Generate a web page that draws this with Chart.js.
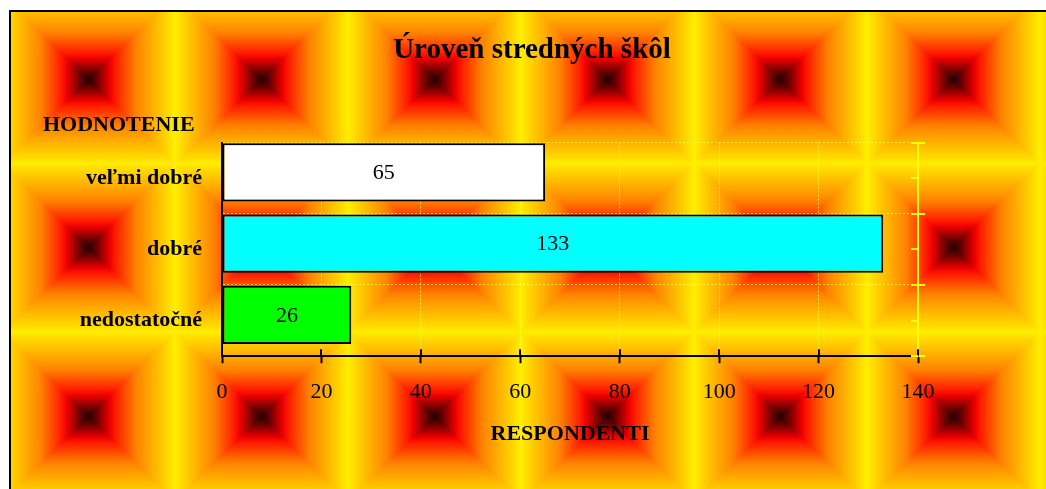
<!DOCTYPE html>
<html>
<head>
<meta charset="utf-8">
<title>Úroveň stredných škôl</title>
<script src="https://cdn.jsdelivr.net/npm/chart.js@4/dist/chart.umd.min.js"></script>
<style>
    html, body { margin: 0; padding: 0; background: #fff; }
    #frame {
        position: absolute; left: 9px; top: 10px;
        width: 1037px; height: 479px;
        border-left: 2px solid #000; border-top: 2px solid #000;
        box-sizing: border-box;
    }
    #wrap { position: absolute; left: 0; top: 0; width: 1035px; height: 477px; }
</style>
</head>
<body>
<div id="frame"><div id="wrap"><canvas id="levelChart"></canvas></div></div>
<script>
// Chart data
const chartTitle = 'Úroveň stredných škôl';
const categoryTitle = 'HODNOTENIE';
const valueTitle = 'RESPONDENTI';
const categories = ['veľmi dobré', 'dobré', 'nedostatočné'];
const respondents = [65, 133, 26];
const spacer = [null, null, null]; // empty second series, pushes the bars up like in the original
const respondentTicks = [0, 20, 40, 60, 80, 100, 120, 140];

const barColors = ['#ffffff', '#00ffff', '#00ff00'];
const gridColor = 'rgba(255, 255, 60, 0.75)';
const axisYellow = '#ffff00';

Chart.defaults.font.family = '"Liberation Serif", "Times New Roman", serif';
Chart.defaults.color = '#000';

// "from center" gradient, dark core -> red -> orange -> yellow edge
const gradStops = [
    [0.00, [35, 0, 0]],
    [0.10, [110, 0, 0]],
    [0.25, [240, 0, 0]],
    [0.32, [255, 30, 0]],
    [0.55, [255, 130, 0]],
    [0.80, [255, 190, 0]],
    [0.95, [255, 225, 0]],
    [1.00, [255, 240, 0]]
];

function gradColor(t) {
    for (let i = 1; i < gradStops.length; i++) {
        if (t <= gradStops[i][0]) {
            const a = gradStops[i - 1], b = gradStops[i];
            const f = (t - a[0]) / (b[0] - a[0]);
            return a[1].map((v, k) => Math.round(v + (b[1][k] - v) * f));
        }
    }
    return gradStops[gradStops.length - 1][1];
}

function makeTile(w, h) {
    const c = document.createElement('canvas');
    c.width = w;
    c.height = h;
    const g = c.getContext('2d');
    const img = g.createImageData(w, h);
    const cx = w / 2, cy = h / 2;
    for (let y = 0; y < h; y++) {
        for (let x = 0; x < w; x++) {
            const t = Math.min(1, Math.max(Math.abs(x + 0.5 - cx) / cx, Math.abs(y + 0.5 - cy) / cy));
            const col = gradColor(t);
            const i = (y * w + x) * 4;
            img.data[i] = col[0];
            img.data[i + 1] = col[1];
            img.data[i + 2] = col[2];
            img.data[i + 3] = 255;
        }
    }
    g.putImageData(img, 0, 0);
    return c;
}

const tileW = 173, tileH = 169;
const tile = makeTile(tileW, tileH);

const tiledBackground = {
    id: 'tiledBackground',
    beforeDraw(chart) {
        const ctx = chart.ctx;
        ctx.save();
        for (let y = -17.25; y < chart.height; y += 168.5) {
            for (let x = -9.5; x < chart.width; x += tileW) {
                ctx.drawImage(tile, Math.round(x), Math.round(y), tileW, tileH);
            }
        }
        ctx.restore();
    }
};

// numbers inside the bars
const valueLabels = {
    id: 'valueLabels',
    afterDatasetsDraw(chart) {
        const ctx = chart.ctx;
        const meta = chart.getDatasetMeta(0);
        ctx.save();
        ctx.font = '22px "Liberation Serif"';
        ctx.fillStyle = '#000';
        ctx.textAlign = 'center';
        ctx.textBaseline = 'middle';
        meta.data.forEach((bar, i) => {
            ctx.fillText(respondents[i], (bar.x + bar.base) / 2, bar.y + 1);
        });
        ctx.restore();
    }
};

// ticks that cross the axis line (Chart.js only draws the outer half)
const crossTicks = {
    id: 'crossTicks',
    afterDraw(chart) {
        const { ctx, chartArea, scales } = chart;
        ctx.save();
        ctx.lineWidth = 2;
        ctx.strokeStyle = '#000';
        ctx.beginPath();
        scales.x.ticks.forEach(t => {
            const px = Math.round(scales.x.getPixelForValue(t.value));
            ctx.moveTo(px, chartArea.bottom - 7);
            ctx.lineTo(px, chartArea.bottom);
        });
        ctx.stroke();

        const y2 = scales.y2;
        const band = (y2.bottom - y2.top) / categories.length;
        ctx.strokeStyle = axisYellow;
        ctx.beginPath();
        for (let k = 0; k <= categories.length * 2; k++) {
            const py = Math.round(y2.top + k * band / 2);
            ctx.moveTo(chartArea.right - 7, py);
            ctx.lineTo(chartArea.right, py);
        }
        ctx.stroke();
        ctx.restore();
    }
};

const ctx = document.getElementById('levelChart').getContext('2d');
const chart = new Chart(ctx, {
    type: 'bar',
    data: {
        labels: categories,
        datasets: [{
            data: respondents,
            backgroundColor: barColors,
            borderColor: '#000',
            borderWidth: 2,
            borderSkipped: false,
            categoryPercentage: 0.327,
            barPercentage: 5
        }, {
            data: spacer,
            categoryPercentage: 0.327,
            barPercentage: 5
        }]
    },
    options: {
        indexAxis: 'y',
        responsive: true,
        maintainAspectRatio: false,
        animation: false,
        layout: { padding: { left: 32, right: 25, top: 0, bottom: 41 } },
        scales: {
            x: {
                min: respondentTicks[0],
                max: respondentTicks[respondentTicks.length - 1],
                ticks: {
                    stepSize: respondentTicks[1] - respondentTicks[0],
                    color: '#000',
                    font: { size: 22 },
                    padding: 16
                },
                grid: {
                    color: c => (c.tick && c.tick.value === 0) ? 'rgba(0,0,0,0)' : gridColor,
                    lineWidth: 1,
                    tickColor: '#000',
                    tickWidth: 2,
                    tickLength: 7,
                    tickBorderDash: []
                },
                border: { color: '#000', width: 2, dash: [2, 2] },
                title: {
                    display: true,
                    text: valueTitle,
                    color: '#000',
                    font: { size: 22, weight: 'bold' },
                    padding: { top: 0, bottom: 0 }
                }
            },
            y: {
                afterFit(scale) { scale.width = 179; },
                ticks: {
                    color: '#000',
                    font: { size: 22, weight: 'bold' },
                    padding: 20
                },
                grid: {
                    offset: true,
                    drawTicks: false,
                    color: c => c.index === categories.length ? 'rgba(0,0,0,0)' : gridColor
                },
                border: { color: '#000', width: 2, dash: [2, 2] }
            },
            y2: {
                type: 'category',
                labels: categories,
                position: 'right',
                offset: true,
                afterFit(scale) { scale.width = 103; },
                ticks: { display: false },
                grid: {
                    offset: true,
                    drawOnChartArea: false,
                    color: axisYellow,
                    lineWidth: 2,
                    tickLength: 7
                },
                border: { color: axisYellow, width: 2 }
            }
        },
        plugins: {
            legend: { display: false },
            tooltip: { enabled: false },
            title: {
                display: true,
                text: chartTitle,
                color: '#000',
                font: { size: 29, weight: 'bold' },
                padding: { top: 21, bottom: 44 }
            },
            subtitle: {
                display: true,
                text: categoryTitle,
                align: 'start',
                color: '#000',
                font: { size: 22, weight: 'bold' },
                padding: { top: 0, bottom: 4.3 }
            }
        }
    },
    plugins: [tiledBackground, valueLabels, crossTicks]
});
</script>
</body>
</html>
